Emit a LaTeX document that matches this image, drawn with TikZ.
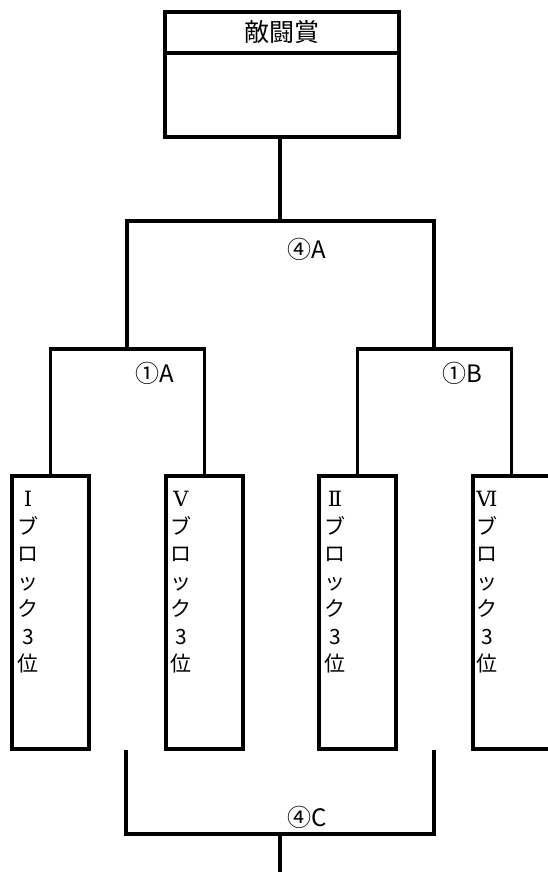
\documentclass[tikz,border=0pt]{standalone}
\usepackage{fontspec}
\setmainfont{Noto Sans CJK JP}
\newfontfamily\romfont{DejaVu Serif}
\begin{document}
\begin{tikzpicture}[x=1pt,y=-1pt,line width=3.3pt,
  box/.style={draw,rectangle,inner sep=0pt,outer sep=0pt},
  blockbox/.style={box,minimum width=77pt,minimum height=273pt,anchor=north west},
  coltext/.style={anchor=north,align=center,text width=24pt,inner sep=0pt,
    font=\fontsize{21}{27.5}\selectfont},
  lbl/.style={inner sep=0pt,font=\fontsize{24}{26}\selectfont}]
\useasboundingbox (0,0) rectangle (548,872);
\clip (0,0) rectangle (548,872);
% top award box
\node[box,minimum width=234pt,minimum height=41pt,font=\fontsize{25}{28}\selectfont] (head) at (282,32.5) {敵闘賞};
\node[box,minimum width=234pt,minimum height=84pt,anchor=north] (body) at (head.south) {};
% junctions
\coordinate (j4a) at (280,221);
\coordinate (j1a) at (127,349);
\coordinate (j1b) at (434,349);
% block boxes
\node[blockbox] (b1) at (12,476) {};
\node[blockbox] (b2) at (166,476) {};
\node[blockbox] (b3) at (319,476) {};
\node[blockbox] (b4) at (473,476) {};
\node[coltext] (t1) at ([xshift=16pt,yshift=-14pt]b1.north west) {{\romfont Ⅰ}\\ブ\\ロ\\ッ\\ク\\3\\位};
\node[coltext] (t2) at ([xshift=15pt,yshift=-14pt]b2.north west) {{\romfont Ⅴ}\\ブ\\ロ\\ッ\\ク\\3\\位};
\node[coltext] (t3) at ([xshift=16pt,yshift=-14pt]b3.north west) {{\romfont Ⅱ}\\ブ\\ロ\\ッ\\ク\\3\\位};
\node[coltext] (t4) at ([xshift=14pt,yshift=-14pt]b4.north west) {{\romfont Ⅵ}\\ブ\\ロ\\ッ\\ク\\3\\位};
% connectors
\draw (body.south -| j4a) -- (j4a);
\draw (j1a) |- (j4a) -| (j1b);
\draw (b1.north) |- (j1a) -| (b2.north);
\draw (b3.north) |- (j1b) -| (b4.north);
% labels
\node[lbl] (l4a) at (307,249) {④A};
\node[lbl] (l1a) at (155,373) {①A};
\node[lbl] (l1b) at (462,373) {①B};
% bottom bracket
\coordinate (c4l) at (126,750);
\coordinate (c4r) at (434,750);
\coordinate (c4m) at (280,834);
\coordinate (c4out) at (280,872);
\draw (c4l) |- (c4m) -| (c4r);
\draw (c4m) -- (c4out);
\node[lbl] (l4c) at (307,817) {④C};
\end{tikzpicture}
\end{document}
